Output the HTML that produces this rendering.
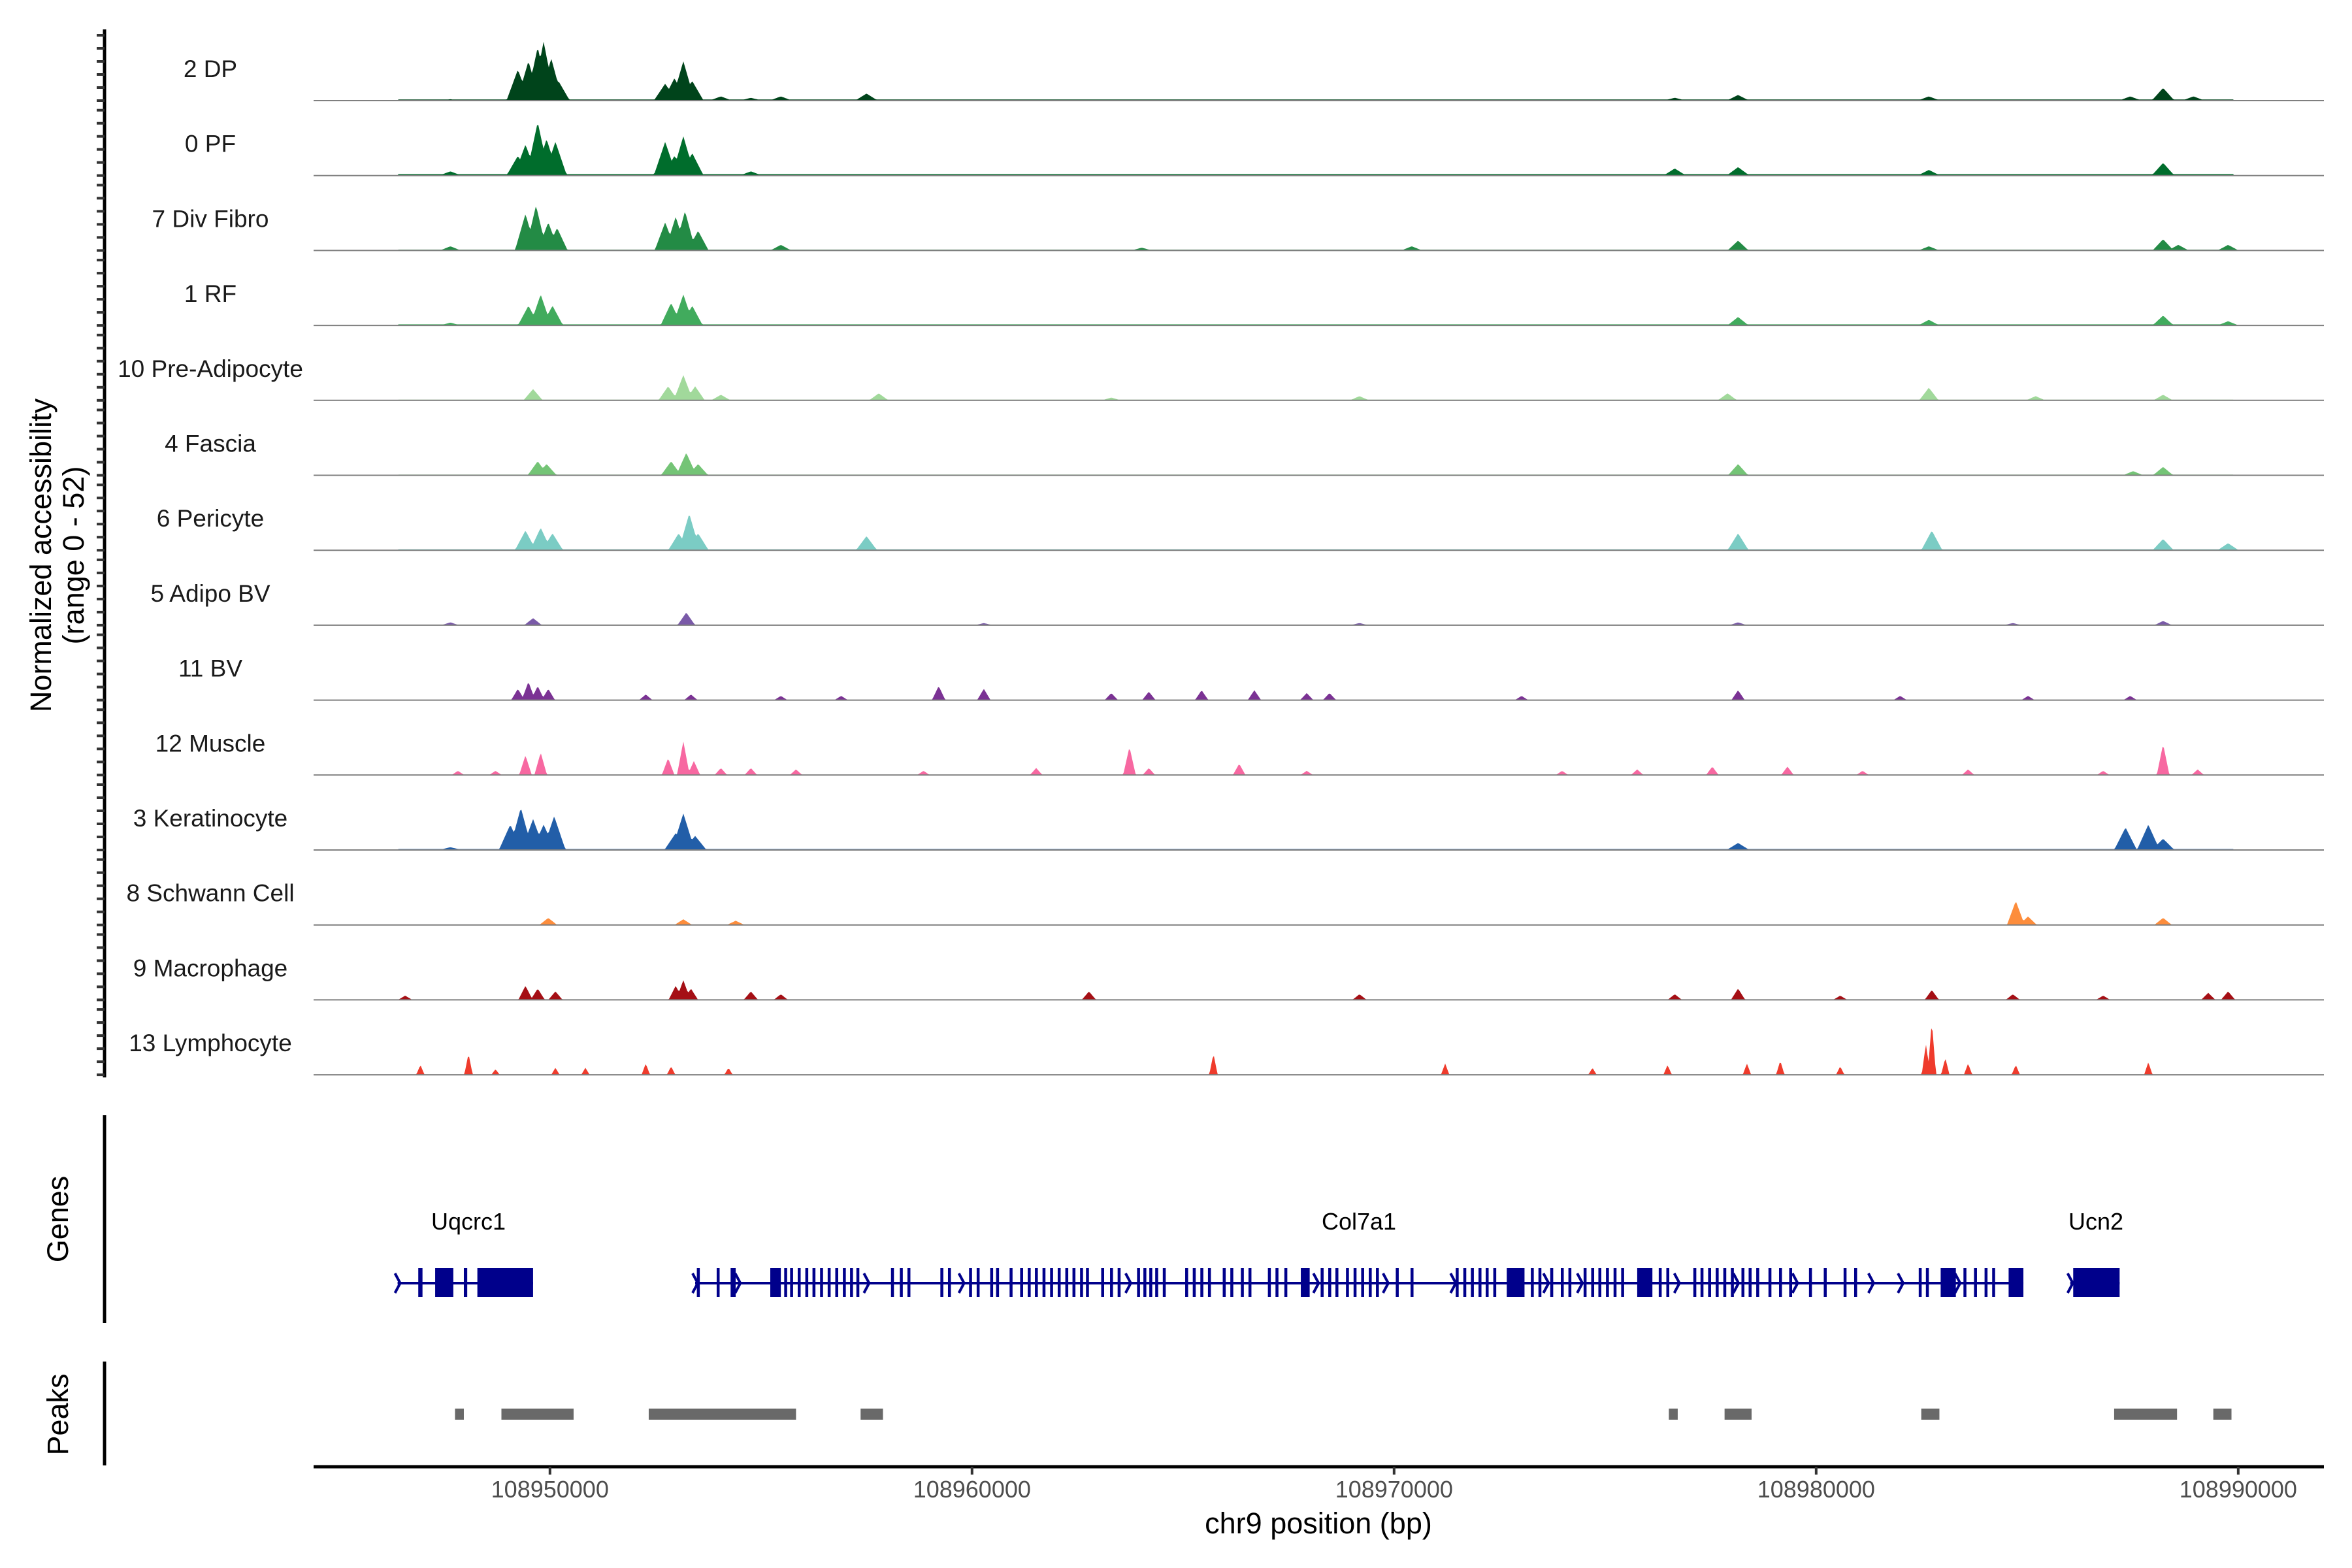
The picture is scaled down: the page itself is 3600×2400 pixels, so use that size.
<!DOCTYPE html>
<html><head><meta charset="utf-8"><style>
html,body{margin:0;padding:0;background:#fff;}
svg{display:block;font-family:"Liberation Sans",sans-serif;}
</style></head><body>
<svg id="chart" width="3600" height="2400" viewBox="0 0 3600 2400" xmlns="http://www.w3.org/2000/svg">
<rect x="0" y="0" width="3600" height="2400" fill="#fff"/>
<g id="tracks"></g>
<g id="yaxis"></g>
<text transform="translate(78,850) rotate(-90)" text-anchor="middle" font-size="45" fill="#000"><tspan x="0" dy="0">Normalized accessibility</tspan><tspan x="0" dy="50">(range 0 - 52)</tspan></text>
<g id="genes"></g>
<g id="peaks"></g>
<g id="xaxis"></g>
</svg>
<script>
const REGION_START = 108944400;
const REGION_END = 108992030;
const trackNames = ["2 DP","0 PF","7 Div Fibro","1 RF","10 Pre-Adipocyte","4 Fascia","6 Pericyte","5 Adipo BV","11 BV","12 Muscle","3 Keratinocyte","8 Schwann Cell","9 Macrophage","13 Lymphocyte"];
const trackColors = ["#00441b","#006d2c","#238b45","#41ab5d","#a1d99b","#74c476","#7bccc4","#7a5aa8","#7b3294","#f768a1","#225ea8","#fd8d3c","#a50f15","#ef3b2c"];
// peak offsets (kb from region start) and heights (normalized accessibility)
const peakPosKb = [
 [4.84,5.09,5.31,5.45,5.63,5.80,8.33,8.55,8.76,8.97,9.65,10.36,11.07,13.10,3.24,32.25,33.75,38.27,43.04,43.82,44.54],
 [4.84,5.02,5.31,5.52,5.73,8.33,8.55,8.76,8.97,10.36,32.25,33.75,38.27,43.82,3.24],
 [5.02,5.27,5.56,5.77,8.33,8.58,8.80,9.11,11.07,33.75,38.27,43.82,44.18,45.36,3.24,19.62,26.02],
 [5.09,5.38,5.66,8.47,8.76,8.97,33.75,38.27,43.82,45.36,3.24],
 [5.20,8.40,8.76,9.04,9.65,13.39,33.50,38.27,40.80,43.82,18.90,24.78],
 [5.31,5.52,8.47,8.83,9.11,33.75,43.82,43.11],
 [5.02,5.38,5.66,8.65,8.90,9.11,13.10,33.75,38.34,43.82,45.36],
 [5.20,8.83,3.24,33.75,43.82,15.88,24.78,40.26],
 [4.84,5.09,5.31,5.56,7.87,8.94,11.07,12.50,14.81,15.88,18.90,19.79,21.04,22.29,23.53,24.07,28.62,33.75,37.59,40.62,43.04],
 [3.42,4.31,5.02,5.38,8.40,8.76,9.01,9.65,10.36,11.43,14.45,17.12,19.33,19.79,21.93,23.53,29.58,31.36,33.14,34.92,36.70,39.20,42.40,43.82,44.64],
 [4.66,4.91,5.20,5.45,5.70,8.58,8.76,9.04,33.75,42.93,43.47,43.82,3.24],
 [5.56,8.76,40.33,40.62,43.82,10.00],
 [5.02,5.31,5.73,8.58,8.76,8.94,10.36,11.07,2.17,18.37,33.75,38.34,40.26,42.40,44.89,45.36,24.78,32.25,36.17],
 [2.53,3.67,4.31,5.73,6.44,7.87,8.47,9.83,21.32,26.81,30.30,32.08,33.96,34.75,36.17,38.34,38.20,38.66,39.20,40.33,43.47]
];
const peakHeights = [
 [22,28,38,42,30,14,12,16,28,14,3,2,3,5,1,2,4,3,3,9,3],
 [14,22,38,26,24,24,14,28,16,3,5,6,4,9,3],
 [26,32,20,16,20,24,28,14,4,7,3,8,4,4,3,2,3],
 [14,22,14,16,22,14,6,4,7,3,2],
 [8,10,18,10,4,5,5,9,3,4,2,3],
 [10,8,10,16,8,8,6,3],
 [14,16,12,12,26,12,10,12,14,8,5],
 [5,9,2,2,3,1.5,1.5,1.5],
 [8,13,10,8,4,4,3,3,10,8,5,6,7,7,5,5,3,7,3,3,3],
 [3,3,14,16,12,24,10,5,5,4,3,5,20,5,8,3,3,4,6,6,3,4,3,22,4],
 [18,30,22,18,24,12,26,10,5,16,18,8,2],
 [5,4,17,6,5,3],
 [10,8,6,10,14,8,6,4,3,6,8,7,4,3,5,6,4,4,3],
 [7,15,4,5,5,8,6,5,15,8,5,7,8,10,6,38,22,12,8,7,9]
];
const peakHalfWidthBp = [270,270,250,250,230,240,250,210,160,150,270,210,170,100];
const backgroundLevel = [0.8,1.0,0.6,0.8,0.5,0.5,0.7,0.4,0,0,0.7,0.3,0.3,0];
const BG_START_KB = 2.0, BG_END_KB = 45.5;
const Y_MAX = 52;
// genes
const geneNames = ["Uqcrc1","Col7a1","Ucn2"];
const geneStartKb = [1.99,9.04,41.62];
const geneEndKb = [5.20,40.51,42.79];
const exonStartKb = [2.48,2.88,3.56,3.88, 9.08,9.55,9.88,10.82,11.15,11.29,11.47,11.65,11.82,12.00,12.18,12.36,12.54,12.71,12.86,13.68,13.89,14.07,14.85,15.03,15.53,15.71,16.03,16.17,16.49,16.74,16.92,17.09,17.27,17.45,17.63,17.81,17.98,18.16,18.30,18.66,18.87,19.05,19.51,19.66,19.80,19.94,20.12,20.65,20.83,21.01,21.19,21.54,21.72,21.97,22.15,22.61,22.79,23.00,23.39,23.86,24.04,24.21,24.46,24.64,24.82,25.00,25.17,25.64,25.99,27.06,27.24,27.42,27.60,27.77,27.95,28.27,28.84,29.02,29.30,29.55,29.73,30.09,30.27,30.44,30.62,30.80,30.98,31.36,31.87,32.05,32.69,32.86,33.04,33.22,33.40,33.58,33.83,34.00,34.18,34.47,34.72,34.96,35.43,35.78,36.25,36.50,38.03,38.20,38.55,39.09,39.34,39.59,39.77,40.16, 41.69];
const exonEndKb = [2.58,3.31,3.64,5.20, 9.15,9.62,10.00,11.07,11.22,11.36,11.54,11.72,11.89,12.07,12.25,12.43,12.61,12.78,12.93,13.75,13.96,14.14,14.92,15.10,15.60,15.78,16.10,16.24,16.56,16.81,16.99,17.16,17.34,17.52,17.70,17.88,18.05,18.23,18.37,18.73,18.94,19.12,19.58,19.73,19.87,20.01,20.19,20.72,20.90,21.08,21.26,21.61,21.79,22.04,22.22,22.68,22.86,23.07,23.60,23.93,24.11,24.28,24.53,24.71,24.89,25.07,25.24,25.71,26.06,27.13,27.31,27.49,27.67,27.84,28.02,28.69,28.91,29.09,29.37,29.62,29.80,30.16,30.34,30.51,30.69,30.87,31.05,31.72,31.94,32.12,32.76,32.93,33.11,33.29,33.47,33.65,33.90,34.07,34.25,34.54,34.79,35.03,35.50,35.85,36.32,36.57,38.10,38.27,38.91,39.16,39.41,39.66,39.84,40.51, 42.79];
const chevronKb = [1.99,9.04,41.62,10.05,13.10,15.35,19.30,23.75,25.40,27.00,29.20,30.00,32.30,33.70,35.10,36.90,37.60,38.95];
// peak regions
const peakRegionStartKb = [3.35,4.45,7.94,12.96,32.11,33.43,38.09,42.66,45.01];
const peakRegionEndKb = [3.56,6.16,11.43,13.49,32.32,34.07,38.52,44.15,45.44];
// x ticks
const xTickValues = [108950000,108960000,108970000,108980000,108990000];
const xTickLabels = ["108950000","108960000","108970000","108980000","108990000"];

const NS = "http://www.w3.org/2000/svg";
const X0 = 480, X1 = 3557;
function xScale(bp){ return X0 + (bp - REGION_START) / (REGION_END - REGION_START) * (X1 - X0); }
function kbX(kb){ return xScale(REGION_START + kb*1000); }
const BASE0 = 154, TRACK_STEP = 114.7, TRACK_H = 112;
function trackBase(i){ return BASE0 + i*TRACK_STEP; }
function yVal(v){ return v / Y_MAX * TRACK_H; }
function mk(tag, attrs, parent){ const e=document.createElementNS(NS,tag); for(const k in attrs) e.setAttribute(k,attrs[k]); parent.appendChild(e); return e; }

const tracksG = document.getElementById('tracks');
const bgX0 = kbX(BG_START_KB), bgX1 = kbX(BG_END_KB);
for (let i=0;i<trackNames.length;i++){
  const g = mk('g',{},tracksG);
  
  
  const base = trackBase(i);
  const hw = peakHalfWidthBp[i] / (REGION_END-REGION_START) * (X1-X0);
  const pxs = peakPosKb[i].map(kbX);
  let d = 'M'+X0+','+base;
  for (let x=X0; x<=X1; x+=2){
    let v = (x>=bgX0 && x<=bgX1) ? backgroundLevel[i] : 0;
    for (let j=0;j<pxs.length;j++){
      const t = 1 - Math.abs(x - pxs[j])/hw;
      if (t>0) v = Math.max(v, peakHeights[i][j]*t);
    }
    d += ' L'+x+','+(base - yVal(v)).toFixed(1);
  }
  d += ' L'+X1+','+base+' Z';
  const area = mk('path',{d:d, fill:trackColors[i], stroke:'none'},g);
  
  
  const bl = mk('line',{x1:X0,x2:X1,y1:base,y2:base,stroke:'#7f7f7f','stroke-width':2},g);
  
  
  const lab = mk('text',{x:322,y:base-36,'text-anchor':'middle','font-size':37,fill:'#1a1a1a'},g);
  
  
  lab.textContent = trackNames[i];
}

// y axis
const yG = document.getElementById('yaxis');
const yl = mk('line',{x1:160,x2:160,y1:45,y2:trackBase(13)+4,stroke:'#000','stroke-width':5},yG);


for (let i=0;i<trackNames.length;i++){
  for (let k=0;k<6;k++){
    const y = trackBase(i) - 100 + k*20;
    const t = mk('line',{x1:148,x2:160,y1:y,y2:y,stroke:'#333','stroke-width':4},yG);
    
    
  }
}

// genes
const gG = document.getElementById('genes');
const gl = mk('line',{x1:160,x2:160,y1:1707,y2:2025,stroke:'#000','stroke-width':5},gG);


const gt = mk('text',{transform:'translate(104,1866) rotate(-90)','text-anchor':'middle','font-size':45,fill:'#000'},gG);


gt.textContent='Genes';
const GENE_Y = 1964;
for (let i=0;i<geneNames.length;i++){
  const ln = mk('line',{x1:kbX(geneStartKb[i]),x2:kbX(geneEndKb[i]),y1:GENE_Y,y2:GENE_Y,stroke:'#00008b','stroke-width':4},gG);
  
  
  const tx = mk('text',{x:[717,2080,3208][i],y:1882,'text-anchor':'middle','font-size':36,fill:'#000'},gG);
  
  
  tx.textContent = geneNames[i];
}
for (let j=0;j<exonStartKb.length;j++){
  const a=kbX(exonStartKb[j]), b=kbX(exonEndKb[j]);
  const r = mk('rect',{x:a,y:1941,width:Math.max(3,b-a),height:44,fill:'#00008b'},gG);
  
  
}
for (let j=0;j<chevronKb.length;j++){
  const x=kbX(chevronKb[j]);
  const c = mk('path',{d:'M'+(x-4)+','+(GENE_Y-15)+' L'+(x+4)+','+GENE_Y+' L'+(x-4)+','+(GENE_Y+15),fill:'none',stroke:'#00008b','stroke-width':4},gG);
  
  
}

// peaks
const pG = document.getElementById('peaks');
const pl = mk('line',{x1:160,x2:160,y1:2084,y2:2243,stroke:'#000','stroke-width':5},pG);


const pt = mk('text',{transform:'translate(104,2165) rotate(-90)','text-anchor':'middle','font-size':45,fill:'#000'},pG);


pt.textContent='Peaks';
for (let j=0;j<peakRegionStartKb.length;j++){
  const a=kbX(peakRegionStartKb[j]), b=kbX(peakRegionEndKb[j]);
  const r = mk('rect',{x:a,y:2156,width:b-a,height:17,fill:'#696969'},pG);
  
  
}

// x axis
const xG = document.getElementById('xaxis');
const xl = mk('line',{x1:X0,x2:X1,y1:2245,y2:2245,stroke:'#000','stroke-width':5},xG);


for (let i=0;i<xTickValues.length;i++){
  const x = xScale(xTickValues[i]);
  const t = mk('line',{x1:x,x2:x,y1:2245,y2:2257,stroke:'#333','stroke-width':4},xG);
  
  
  const l = mk('text',{x:x,y:2292,'text-anchor':'middle','font-size':36,fill:'#4d4d4d'},xG);
  
  
  l.textContent = xTickLabels[i];
}
const xt = mk('text',{x:2018,y:2347,'text-anchor':'middle','font-size':45,fill:'#000'},xG);


xt.textContent='chr9 position (bp)';
</script>
</body></html>
